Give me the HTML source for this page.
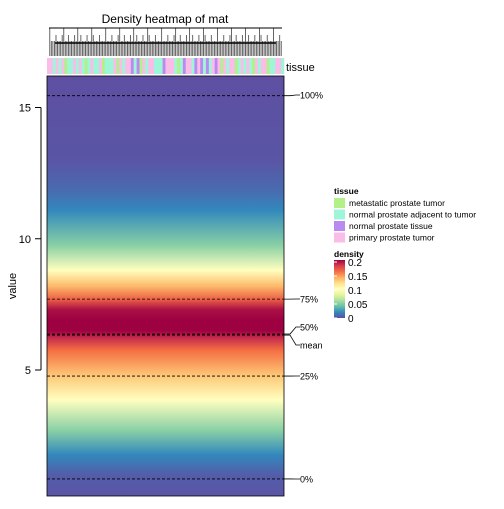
<!DOCTYPE html>
<html><head><meta charset="utf-8"><style>
body{margin:0;background:#fff;font-family:"Liberation Sans",sans-serif}
text{font-family:"Liberation Sans",sans-serif}
</style></head><body>
<svg id="c" width="504" height="504" viewBox="0 0 504 504">
<defs><linearGradient id="g" x1="0" y1="0" x2="0" y2="1"></linearGradient>
<linearGradient id="lg" x1="0" y1="1" x2="0" y2="0"></linearGradient></defs>
<text x="165" y="23" font-size="12" text-anchor="middle">Density heatmap of mat</text>
<g id="dend"></g>
<g id="anno"></g>
<text x="286" y="71" font-size="11">tissue</text>
<rect x="47" y="76" width="237" height="420" fill="url(#g)" stroke="#000" stroke-width="0.8"/>
<g id="axis"></g>
<text transform="translate(16,286) rotate(-90)" font-size="11" text-anchor="middle">value</text>
<g id="q"></g>
<g font-size="8.5">
<text x="334" y="194" font-weight="bold">tissue</text>
<g id="leg"></g>
<text x="334" y="257" font-weight="bold">density</text>
<rect x="334" y="260" width="11" height="58" fill="url(#lg)"/>
<g id="lt"></g>
</g>
</svg>
<script>
const NS="http://www.w3.org/2000/svg";
const valueGrid=[16.2,13,11.8,11.1,9.75,8.8,8.2,7.7,7.3,6.9,6.5,6.2,5.76,4.8,3.86,2.7,1.77,1.0,0.2];
const densityGrid=[0,0.002,0.01,0.02,0.05,0.1,0.135,0.165,0.195,0.21,0.2,0.185,0.16,0.13,0.1,0.05,0.02,0.005,0.002];
const yTicks=[5,10,15];
const quantLabels=["100%","75%","50%","mean","25%","0%"];
const quantValues=[15.45,7.7,6.37,6.33,4.77,0.85];
const tissueNames=["metastatic prostate tumor","normal prostate adjacent to tumor","normal prostate tissue","primary prostate tumor"];
const tissueColors=["#b3f08a","#9ff5d8","#b98af0","#f9bde8"];
const densTicks=[0,0.05,0.1,0.15,0.2];
const samples=[3,3,1,3,1,3,0,1,1,3,1,3,1,0,1,3,1,1,3,0,1,1,1,3,0,3,1,3,3,2,1,2,0,3,1,3,3,1,1,1,2,3,3,3,1,0,1,2,3,3,1,2,3,2,1,2,1,3,2,3,0,3,1,3,3,0,1,3,1,3,1,0,3,1,3,3,0,1,1,3,3,1];
const x0=47,x1=284,y0=76,y1=496,vTop=16.2,vBot=0.2;
const yS=v=>y0+(vTop-v)/(vTop-vBot)*(y1-y0);
const spec=[[0,"#5e4fa2"],[0.1,"#3288bd"],[0.2,"#66c2a5"],[0.3,"#abdda4"],[0.4,"#e6f598"],[0.5,"#ffffbf"],[0.6,"#fee08b"],[0.7,"#fdae61"],[0.8,"#f46d43"],[0.9,"#d53e4f"],[1,"#9e0142"]];
function hex(h){return [1,3,5].map(i=>parseInt(h.substr(i,2),16));}
function col(d){let t=Math.max(0,Math.min(1,d/0.2));for(let i=1;i<spec.length;i++){if(t<=spec[i][0]){const a=spec[i-1],b=spec[i];const f=(t-a[0])/(b[0]-a[0]);const ca=hex(a[1]),cb=hex(b[1]);return "rgb("+ca.map((c,k)=>Math.round(c+(cb[k]-c)*f)).join(",")+")";}}return spec[10][1];}
function mk(tag,attrs,parent){const e=document.createElementNS(NS,tag);for(const k in attrs)e.setAttribute(k,attrs[k]);parent.appendChild(e);return e;}
const g=document.getElementById("g");
valueGrid.forEach((v,i)=>{const s=mk("stop",{offset:(yS(v)-y0)/(y1-y0),"stop-color":col(densityGrid[i])},g);});
const lg=document.getElementById("lg");
spec.forEach(s=>{const e=mk("stop",{offset:s[0],"stop-color":s[1]},lg);});
const ax=document.getElementById("axis");
mk("line",{x1:x0-6,x2:x0-6,y1:yS(5),y2:yS(15),stroke:"#000"},ax);
yTicks.forEach(t=>{const l=mk("line",{x1:x0-12,x2:x0-6,y1:yS(t),y2:yS(t),stroke:"#000"},ax);
const tx=mk("text",{x:x0-16,y:yS(t)+4,"font-size":11,"text-anchor":"end"},ax);tx.textContent=t;});
const q=document.getElementById("q");
const labY=[95,299,327,345,376,479];
quantValues.forEach((v,i)=>{const y=yS(v);
const l=mk("line",{x1:x0,x2:x1,y1:y,y2:y,stroke:"#000","stroke-dasharray":"3,2","stroke-width":0.8},q);
const c=mk("polyline",{points:`${x1},${y} ${x1+6},${y} ${x1+12},${labY[i]} ${x1+16},${labY[i]}`,fill:"none",stroke:"#000","stroke-width":0.8},q);
const t=mk("text",{x:x1+16,y:labY[i]+3.5,"font-size":9},q);t.textContent=quantLabels[i];});
const n=samples.length,w=(x1-x0)/n;
const an=document.getElementById("anno"),dd=document.getElementById("dend");
samples.forEach((s,i)=>{const r=mk("rect",{x:x0+i*w,y:58,width:w+0.3,height:16,fill:tissueColors[s]},an);});
const nd=150,wd=(x1-x0-4)/nd;
for(let i=0;i<nd;i++){const top=((i*7)%9===0)?28:(((i*5)%4===0)?35:41);const l=mk("line",{x1:x0+2+(i+0.5)*wd,x2:x0+2+(i+0.5)*wd,y1:56,y2:top,stroke:"#555","stroke-width":0.9},dd);}
mk("line",{x1:x0+2,x2:x1-2,y1:28,y2:28,stroke:"#000"},dd);
mk("line",{x1:x0+8,x2:x1-8,y1:43,y2:43,stroke:"#000","stroke-width":1.5},dd);
const leg=document.getElementById("leg");
tissueNames.forEach((nm,i)=>{const r=mk("rect",{x:334,y:198+i*11.5,width:11,height:10,fill:tissueColors[i]},leg);
const t=mk("text",{x:349,y:206+i*11.5,"font-size":8.5},leg);t.textContent=nm;});
const lt=document.getElementById("lt");
densTicks.forEach(d=>{const y=318-d/0.2*56;const t=mk("text",{x:348,y:y+4,"font-size":10},lt);t.textContent=d;
const l=mk("line",{x1:334,x2:337,y1:y,y2:y,stroke:"#fff"},lt);});
</script>
</body></html>
